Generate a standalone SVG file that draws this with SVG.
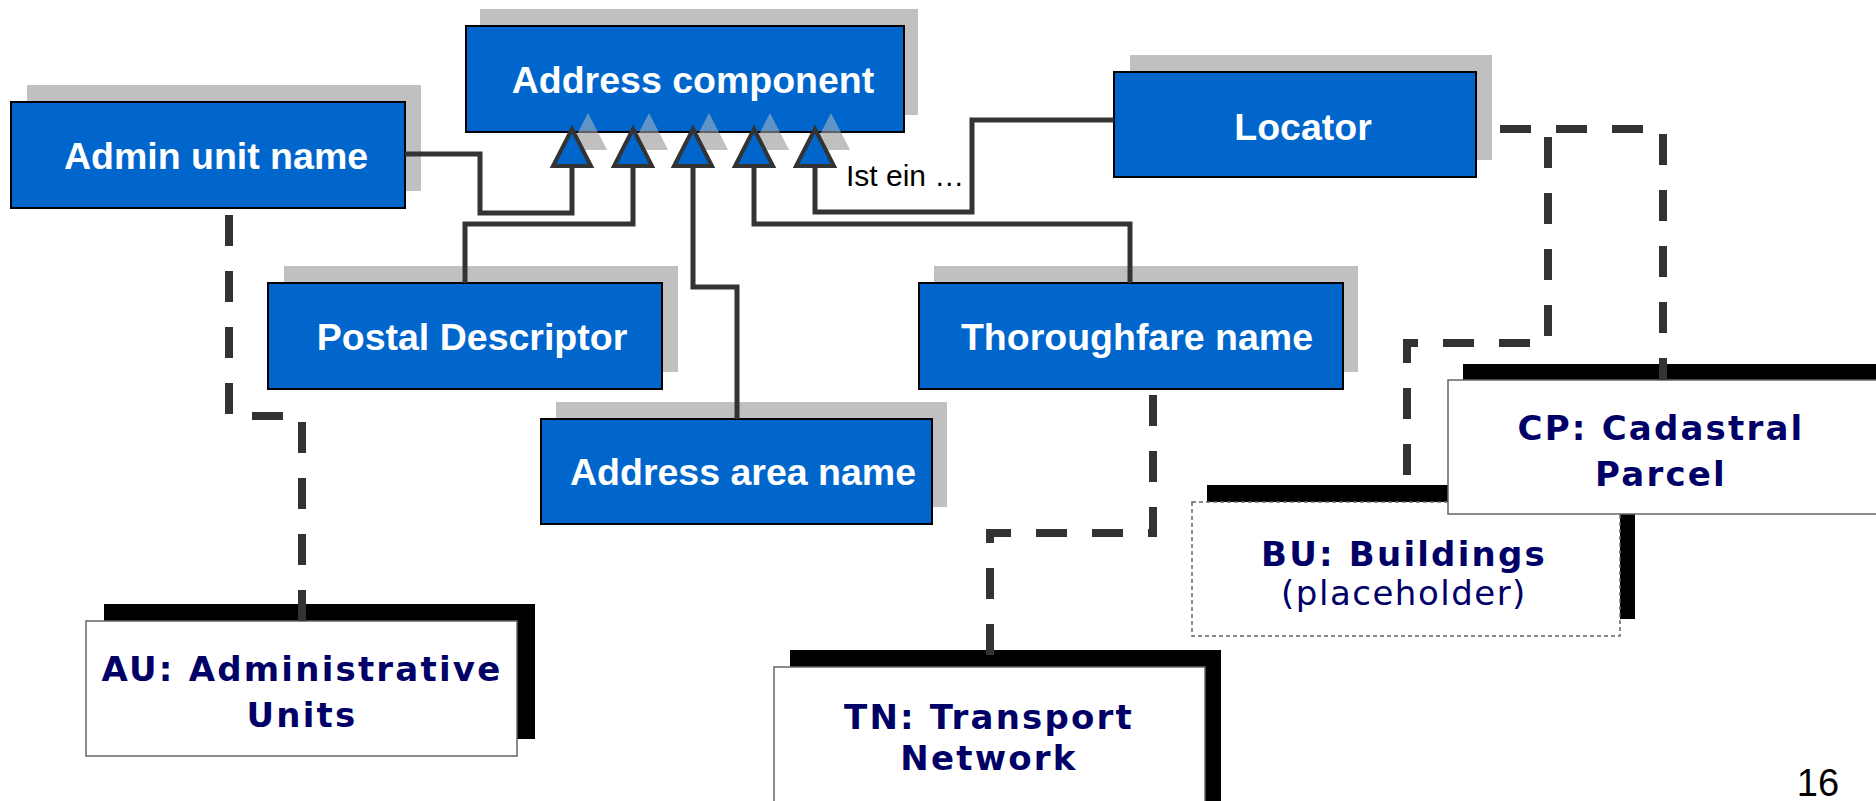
<svg xmlns="http://www.w3.org/2000/svg" width="1876" height="801" viewBox="0 0 1876 801">
<style>
.sh{fill:#c0c0c0}
.bx{fill:#0066cc;stroke:#000;stroke-width:2}
.bt{font-family:"Liberation Sans",Arial,sans-serif;font-weight:bold;font-size:37.5px;fill:#fff;text-anchor:middle}
.ln{fill:none;stroke:#333;stroke-width:5}
.dl{fill:none;stroke:#333;stroke-width:8;stroke-dasharray:31 25}
.tri{fill:#0066cc;stroke:#333;stroke-width:4;stroke-linejoin:miter}
.wb{fill:#fff;stroke:#666;stroke-width:1.5}
.blk{fill:#000}
.nt{font-family:"DejaVu Sans",Verdana,sans-serif;font-weight:bold;font-size:34px;letter-spacing:2.2px;fill:#000066;text-anchor:middle}
.nr{font-family:"DejaVu Sans",Verdana,sans-serif;font-size:34px;letter-spacing:1.5px;fill:#000066;text-anchor:middle}
</style>
<defs>
<path id="tr" d="M0,0 L19,37 L-19,37 Z"/>
</defs>

<g id="node-admin-unit-name">
<rect class="sh" x="27" y="85" width="394" height="106"/>
<rect class="bx" x="11" y="102" width="394" height="106"/>
<text class="bt" x="216" y="169">Admin unit name</text>
</g>

<g id="node-address-component">
<rect class="sh" x="480" y="9" width="438" height="106"/>
<g fill="#c0c0c0">
<use href="#tr" x="588" y="113"/><use href="#tr" x="649" y="113"/><use href="#tr" x="709" y="113"/><use href="#tr" x="770" y="113"/><use href="#tr" x="831" y="113"/>
</g>
<rect class="bx" x="466" y="26" width="438" height="106"/>
<g fill="#c0c0c0" fill-opacity="0.5">
<use href="#tr" x="588" y="113"/><use href="#tr" x="649" y="113"/><use href="#tr" x="709" y="113"/><use href="#tr" x="770" y="113"/><use href="#tr" x="831" y="113"/>
</g>
<text class="bt" x="693" y="93">Address component</text>
</g>

<g id="node-locator">
<rect class="sh" x="1130" y="55" width="362" height="105"/>
<rect class="bx" x="1114" y="72" width="362" height="105"/>
<text class="bt" x="1303" y="140">Locator</text>
</g>

<g id="node-postal-descriptor">
<rect class="sh" x="284" y="266" width="394" height="106"/>
<rect class="bx" x="268" y="283" width="394" height="106"/>
<text class="bt" x="472" y="350">Postal Descriptor</text>
</g>

<g id="node-thoroughfare-name">
<rect class="sh" x="934" y="266" width="424" height="106"/>
<rect class="bx" x="919" y="283" width="424" height="106"/>
<text class="bt" x="1137" y="350">Thoroughfare name</text>
</g>

<g id="node-address-area-name">
<rect class="sh" x="556" y="402" width="391" height="105"/>
<rect class="bx" x="541" y="419" width="391" height="105"/>
<text class="bt" x="743" y="485">Address area name</text>
</g>

<g id="node-au">
<rect class="blk" x="104" y="604" width="431" height="135"/>
<rect class="wb" x="86" y="621" width="431" height="135"/>
<text class="nt" x="302" y="681">AU: Administrative</text>
<text class="nt" x="302" y="727">Units</text>
</g>

<g id="node-tn">
<rect class="blk" x="790" y="650" width="431" height="160"/>
<rect class="wb" x="774" y="667" width="431" height="150"/>
<text class="nt" x="989" y="729">TN: Transport</text>
<text class="nt" x="989" y="770">Network</text>
</g>

<g id="node-bu">
<rect class="blk" x="1207" y="485" width="428" height="134"/>
<rect x="1192" y="502" width="428" height="134" fill="#fff" stroke="#666" stroke-width="1.5" stroke-dasharray="4 3"/>
<text class="nt" x="1404" y="566">BU: Buildings</text>
<text class="nr" x="1404" y="605">(placeholder)</text>
</g>

<g id="node-cp">
<rect class="blk" x="1463" y="364" width="426" height="134"/>
<rect class="wb" x="1448" y="380" width="440" height="134"/>
<text class="nt" x="1661" y="440">CP: Cadastral</text>
<text class="nt" x="1661" y="486">Parcel</text>
</g>

<g id="connectors">
<path class="ln" d="M405,154 H480 V213 H572 V166"/>
<path class="ln" d="M465,283 V224 H633 V166"/>
<path class="ln" d="M737,419 V287 H693 V166"/>
<path class="ln" d="M1130,283 V224 H754 V166"/>
<path class="ln" d="M1114,120 H972 V212 H815 V166"/>
<use href="#tr" x="572" y="129" class="tri"/>
<use href="#tr" x="633" y="129" class="tri"/>
<use href="#tr" x="693" y="129" class="tri"/>
<use href="#tr" x="754" y="129" class="tri"/>
<use href="#tr" x="815" y="129" class="tri"/>
<text x="846" y="186" font-family="Liberation Sans, Arial, sans-serif" font-size="30" fill="#000">Ist ein …</text>
<path class="dl" d="M229,215 V416 H302 V621"/>
<path class="dl" d="M1153,395 V533 H990 V657"/>
<path class="dl" d="M1500,129 H1663 V380"/>
<path class="dl" d="M1548,137 V343 H1407 V485"/>
</g>

<text x="1818" y="796" font-family="Liberation Sans, Arial, sans-serif" font-size="38" fill="#000" text-anchor="middle">16</text>
</svg>
